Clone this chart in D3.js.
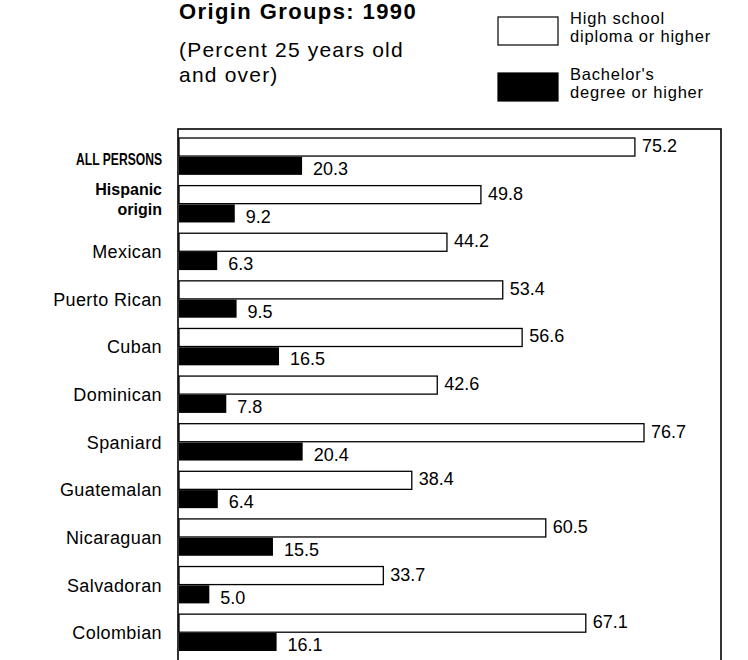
<!DOCTYPE html>
<html>
<head>
<meta charset="utf-8">
<script src="https://cdn.jsdelivr.net/npm/d3@7"></script>
<style>
  body { margin: 0; background: #fff; }
  text { font-family: "Liberation Sans", Arial, Helvetica, sans-serif; fill: #000; }
</style>
</head>
<body>
<div class="chart"></div>
<script>
// Chart data
var categories = ["ALL PERSONS", "Hispanic origin", "Mexican", "Puerto Rican", "Cuban", "Dominican",
  "Spaniard", "Guatemalan", "Nicaraguan", "Salvadoran", "Colombian"];
var boldCategories = ["ALL PERSONS", "Hispanic origin"];
var highSchool = [75.2, 49.8, 44.2, 53.4, 56.6, 42.6, 76.7, 38.4, 60.5, 33.7, 67.1];
var bachelor = [20.3, 9.2, 6.3, 9.5, 16.5, 7.8, 20.4, 6.4, 15.5, 5.0, 16.1];
var seriesNames = ["High school diploma or higher", "Bachelor's degree or higher"];

var titleText = "Origin Groups: 1990";
var subtitleLines = ["(Percent 25 years old", "and over)"];
var legendLines = [["High school", "diploma or higher"], ["Bachelor's", "degree or higher"]];

// Set SVG dimensions
var svgWidth = 748;
var svgHeight = 660;

var svg = d3.select(".chart")
  .append("svg")
  .attr("width", svgWidth)
  .attr("height", svgHeight);

svg.append("rect")
  .attr("width", svgWidth)
  .attr("height", svgHeight)
  .attr("fill", "#fff");

// Scales
// ==============================
var xScale = d3.scaleLinear()
  .domain([0, 80])
  .range([179, 664]);

var yScale = d3.scaleBand()
  .domain(categories)
  .range([138, 651])
  .paddingInner(0.226)
  .paddingOuter(0);

var subScale = d3.scaleBand()
  .domain(seriesNames)
  .range([0, yScale.bandwidth()])
  .paddingInner(0.04);

var rows = categories.map(function (c, i) {
  return { name: c, hs: highSchool[i], ba: bachelor[i] };
});

// Frame around the plot
svg.append("rect")
  .attr("x", 178)
  .attr("y", 129)
  .attr("width", 543)
  .attr("height", 560)
  .attr("fill", "none")
  .attr("stroke", "#000")
  .attr("stroke-width", 1.6);

// Bars
// ==============================
var rowGroups = svg.selectAll(".row")
  .data(rows)
  .enter()
  .append("g")
  .attr("class", "row")
  .attr("transform", d => `translate(0, ${yScale(d.name)})`);

rowGroups.append("rect")
  .attr("x", xScale(0))
  .attr("y", subScale(seriesNames[0]))
  .attr("width", d => xScale(d.hs) - xScale(0))
  .attr("height", subScale.bandwidth())
  .attr("fill", "#fff")
  .attr("stroke", "#000")
  .attr("stroke-width", 1.3);

rowGroups.append("rect")
  .attr("x", xScale(0))
  .attr("y", subScale(seriesNames[1]))
  .attr("width", d => xScale(d.ba) - xScale(0))
  .attr("height", subScale.bandwidth())
  .attr("fill", "#000");

// Value labels
rowGroups.append("text")
  .attr("x", d => xScale(d.hs) + 7)
  .attr("y", 14)
  .attr("font-size", "18px")
  .text(d => d.hs.toFixed(1));

rowGroups.append("text")
  .attr("x", d => xScale(d.ba) + 11)
  .attr("y", 37)
  .attr("font-size", "18px")
  .text(d => d.ba.toFixed(1));

// Category labels
rowGroups.each(function (d) {
  var g = d3.select(this);
  var isBold = boldCategories.indexOf(d.name) >= 0;
  var label = g.append("text")
    .attr("text-anchor", "end")
    .attr("font-size", isBold ? "16px" : "18px")
    .attr("font-weight", isBold ? "bold" : "normal")
    .attr("letter-spacing", isBold ? "0" : "0.4px");
  if (d.name === "Hispanic origin") {
    label.append("tspan").attr("x", 162).attr("y", 9).text("Hispanic");
    label.append("tspan").attr("x", 162).attr("y", 29).text("origin");
  } else if (d.name === "ALL PERSONS") {
    label.attr("x", 162)
      .attr("y", 27)
      .attr("font-size", "16.5px")
      .attr("textLength", 86)
      .attr("lengthAdjust", "spacingAndGlyphs")
      .text(d.name);
  } else {
    label.attr("x", 162)
      .attr("y", 25)
      .text(d.name);
  }
});

// Titles
// ==============================
svg.append("text")
  .attr("x", 179)
  .attr("y", 19)
  .attr("font-size", "22px")
  .attr("font-weight", "bold")
  .attr("letter-spacing", "1.4px")
  .text(titleText);

svg.selectAll(".subtitle")
  .data(subtitleLines)
  .enter()
  .append("text")
  .attr("class", "subtitle")
  .attr("x", 179)
  .attr("y", (d, i) => 57 + i * 25)
  .attr("font-size", "21px")
  .attr("letter-spacing", "1.2px")
  .text(d => d);

// Legend
// ==============================
var legend = svg.selectAll(".legend")
  .data(seriesNames)
  .enter()
  .append("g")
  .attr("class", "legend")
  .attr("transform", (d, i) => `translate(498, ${17 + i * 56})`);

legend.append("rect")
  .attr("width", 60)
  .attr("height", 28)
  .attr("fill", (d, i) => i === 0 ? "#fff" : "#000")
  .attr("stroke", "#000")
  .attr("stroke-width", 1.2);

legend.each(function (d, i) {
  d3.select(this).selectAll("text")
    .data(legendLines[i])
    .enter()
    .append("text")
    .attr("x", 72)
    .attr("y", (t, j) => 7 + j * 18)
    .attr("font-size", "16.5px")
    .attr("letter-spacing", "0.8px")
    .text(t => t);
});
</script>
</body>
</html>
